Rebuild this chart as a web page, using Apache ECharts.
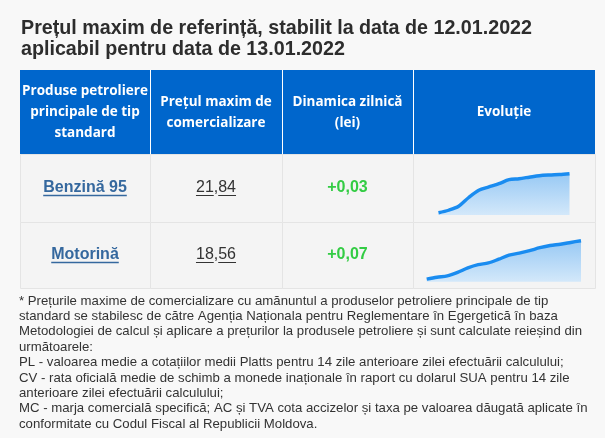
<!DOCTYPE html>
<html><head><meta charset="utf-8">
<script src="https://cdn.jsdelivr.net/npm/echarts@6/dist/echarts.min.js"></script>
<style>html,body{margin:0;padding:0;background:#f8f8f8}#c{width:605px;height:438px}</style>
</head><body><div id="c"></div>
<script>
const titleLines = ['Prețul maxim de referință, stabilit la data de 12.01.2022', 'aplicabil pentru data de 13.01.2022'];
const headers = ['Produse petroliere\nprincipale de tip\nstandard', 'Prețul maxim de\ncomercializare', 'Dinamica zilnică\n(lei)', 'Evoluție'];
const products = ['Benzină 95', 'Motorină'];
const prices = ['21,84', '18,56'];
const changes = ['+0,03', '+0,07'];
const benzinaValues = [20.28, 20.38, 20.54, 20.89, 21.18, 21.31, 21.44, 21.60, 21.64, 21.70, 21.76, 21.79, 21.81, 21.84];
const motorinaValues = [17.02, 17.10, 17.15, 17.29, 17.47, 17.60, 17.67, 17.82, 17.98, 18.06, 18.16, 18.28, 18.37, 18.42, 18.49, 18.56];
const footnoteLines = [
  '* Prețurile maxime de comercializare cu amănuntul a produselor petroliere principale de tip',
  'standard se stabilesc de către Agenția Naționala pentru Reglementare în Egergetică în baza',
  'Metodologiei de calcul și aplicare a prețurilor la produsele petroliere și sunt calculate reieșind din',
  'următoarele:',
  'PL - valoarea medie a cotațiilor medii Platts pentru 14 zile anterioare zilei efectuării calculului;',
  'CV - rata oficială medie de schimb a monede inaționale în raport cu dolarul SUA pentru 14 zile',
  'anterioare zilei efectuării calculului;',
  'MC - marja comercială specifică; AC și TVA cota accizelor și taxa pe valoarea dăugată aplicate în',
  'conformitate cu Codul Fiscal al Republicii Moldova.'
];

const colX = [20, 150, 282, 413, 595];
const headTop = 70, headBottom = 154;
const rowEdges = [154, 222, 288];
const sparkBoxes = [
  {left: 438.5, top: 173.7, width: 131, height: 41.3, min: 20.19, max: 21.84},
  {left: 426.7, top: 240.7, width: 154.3, height: 41, min: 16.92, max: 18.56}
];
const sparkData = [benzinaValues, motorinaValues];

const ctx = document.createElement('canvas').getContext('2d');
function textW(t, font) { ctx.font = font; return ctx.measureText(t).width; }

const g = [];
titleLines.forEach((t, i) => {
  g.push({type: 'text', x: 21, y: [29, 49.5][i], style: {text: t, fill: '#2d2d2d', font: 'bold 19.7px "Liberation Sans", Arial, sans-serif', align: 'left', verticalAlign: 'middle'}});
});
g.push({type: 'rect', shape: {x: colX[0], y: headTop, width: colX[4] - colX[0], height: headBottom - headTop}, style: {fill: '#0066cc'}});
for (let i = 1; i < 4; i++) {
  g.push({type: 'line', shape: {x1: colX[i] + 0.5, y1: headTop, x2: colX[i] + 0.5, y2: headBottom}, style: {stroke: '#ffffff', lineWidth: 1}});
}
headers.forEach((h, i) => {
  g.push({type: 'text', x: (colX[i] + colX[i + 1]) / 2, y: (headTop + headBottom) / 2 + 0.5, style: {text: h, fill: '#ffffff', font: 'bold 13.5px "Open Sans", sans-serif', lineHeight: 21, align: 'center', verticalAlign: 'middle'}});
});
for (let r = 0; r < 2; r++) {
  const y0 = rowEdges[r], y1 = rowEdges[r + 1], cy = (y0 + y1) / 2;
  for (let c = 0; c < 4; c++) {
    g.push({type: 'rect', shape: {x: colX[c] + 0.5, y: y0 + 0.5, width: colX[c + 1] - colX[c], height: y1 - y0}, style: {fill: '#f4f4f4', stroke: '#e4e4e4', lineWidth: 1}, z: 0});
  }
  const pf = 'bold 16px "Liberation Sans", Arial, sans-serif';
  const px = (colX[0] + colX[1]) / 2;
  g.push({type: 'text', x: px, y: cy, style: {text: products[r], fill: '#35689e', font: pf, align: 'center', verticalAlign: 'middle'}, z: 2});
  const pw = textW(products[r], pf);
  g.push({type: 'line', shape: {x1: px - pw / 2, y1: cy + 7.5, x2: px + pw / 2, y2: cy + 7.5}, style: {stroke: '#35689e', lineWidth: 1.3}, z: 2});
  const vf = '16px "Liberation Sans", Arial, sans-serif';
  const vx = (colX[1] + colX[2]) / 2;
  g.push({type: 'text', x: vx, y: cy, style: {text: prices[r], fill: '#333333', font: vf, align: 'center', verticalAlign: 'middle'}, z: 2});
  const parts = prices[r].split(',');
  const totalW = textW(prices[r], vf);
  const w1 = textW(parts[0], vf), wc = textW(',', vf), w2 = textW(parts[1], vf);
  const sx = vx - totalW / 2;
  g.push({type: 'line', shape: {x1: sx, y1: cy + 7.5, x2: sx + w1, y2: cy + 7.5}, style: {stroke: '#333333', lineWidth: 1}, z: 2});
  g.push({type: 'line', shape: {x1: sx + w1 + wc, y1: cy + 7.5, x2: sx + w1 + wc + w2, y2: cy + 7.5}, style: {stroke: '#333333', lineWidth: 1}, z: 2});
  g.push({type: 'text', x: (colX[2] + colX[3]) / 2, y: cy, style: {text: changes[r], fill: '#33cc44', font: 'bold 16px "Liberation Sans", Arial, sans-serif', align: 'center', verticalAlign: 'middle'}, z: 2});
}
footnoteLines.forEach((t, i) => {
  g.push({type: 'text', x: 19, y: 301 + i * 15.4, style: {text: t, fill: '#333333', font: '13.2px "Liberation Sans", Arial, sans-serif', align: 'left', verticalAlign: 'middle'}});
});

const grids = sparkBoxes.map(b => ({left: b.left, top: b.top, width: b.width, height: b.height}));
const xAxes = sparkData.map((d, i) => ({type: 'category', gridIndex: i, boundaryGap: false, data: d.map((_, k) => k + 1), show: false}));
const yAxes = sparkBoxes.map((b, i) => ({type: 'value', gridIndex: i, min: b.min, max: b.max, show: false}));
const series = sparkData.map((d, i) => ({
  type: 'line', xAxisIndex: i, yAxisIndex: i, data: d, smooth: 0.3, symbol: 'none', silent: true,
  lineStyle: {color: '#1a8cf0', width: 3.4},
  areaStyle: {color: new echarts.graphic.LinearGradient(0, 0, 0, 1, [{offset: 0, color: '#98c9f4'}, {offset: 1, color: '#d3e8fa'}]), opacity: 1},
  z: 5
}));

const chart = echarts.init(document.getElementById('c'), null, {renderer: 'canvas'});
chart.setOption({
  backgroundColor: '#f8f8f8',
  animation: false,
  grid: grids, xAxis: xAxes, yAxis: yAxes, series: series,
  graphic: {elements: g}
});
</script></body></html>
